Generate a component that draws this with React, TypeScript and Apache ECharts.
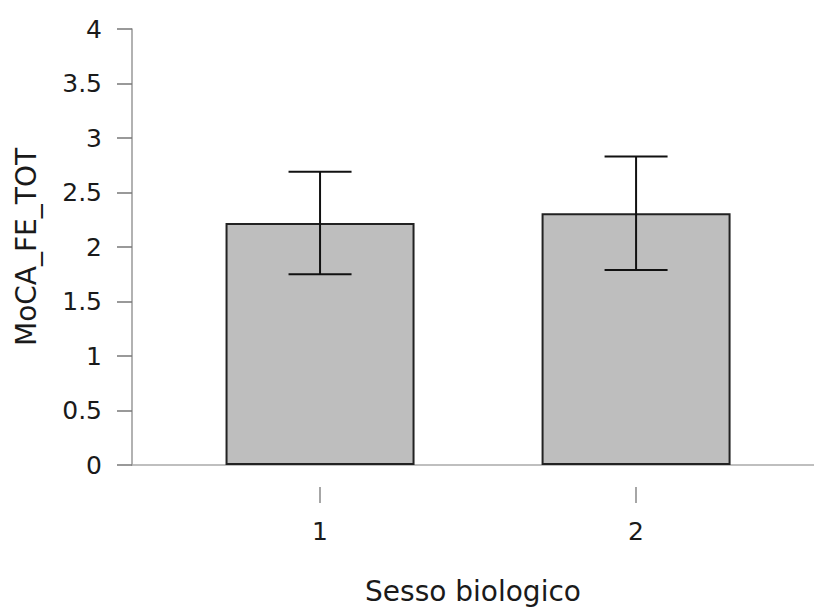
import React, { useEffect, useRef } from "react";
import * as echarts from "echarts";

const categories = ["1", "2"];
const categoryPositions = [1, 2];
const meanValues = [2.22, 2.31];
const errorLow = [1.75, 1.79];
const errorHigh = [2.69, 2.83];
const yTicks = { min: 0, max: 4, interval: 0.5 };
const yName = "MoCA_FE_TOT";
const xName = "Sesso biologico";

export default function App() {
  const ref = useRef<HTMLDivElement>(null);
  useEffect(() => {
    if (!ref.current) return;
    const chart = echarts.init(ref.current, undefined, { renderer: "svg" });
    const font = "DejaVu Sans";
    const xMin = 0.405;
    const xMax = 2.563;
    chart.setOption({
      animation: false,
      backgroundColor: "#ffffff",
      grid: { left: 132, right: 0, top: 29, bottom: 139, containLabel: false },
      xAxis: [
        {
          type: "value",
          min: xMin,
          max: xMax,
          axisLine: { show: true, lineStyle: { color: "#aaaaaa", width: 1.5 } },
          axisTick: { show: false },
          axisLabel: { show: false },
          splitLine: { show: false },
        },
        {
          type: "value",
          min: xMin,
          max: xMax,
          position: "bottom",
          offset: 22,
          axisLine: { show: false },
          axisTick: {
            show: true,
            length: 16,
            customValues: categoryPositions,
            lineStyle: { color: "#888888", width: 1.5 },
          },
          axisLabel: {
            show: true,
            customValues: categoryPositions,
            formatter: (v: number) => categories[categoryPositions.indexOf(Math.round(v))] ?? "",
            margin: 32,
            fontFamily: font,
            fontSize: 25,
            color: "#1a1a1a",
          },
          splitLine: { show: false },
          name: xName,
          nameLocation: "middle",
          nameGap: 90,
          nameTextStyle: { fontFamily: font, fontSize: 28, color: "#1a1a1a" },
        },
      ],
      yAxis: {
        type: "value",
        min: yTicks.min,
        max: yTicks.max,
        interval: yTicks.interval,
        axisLine: { show: true, lineStyle: { color: "#999999", width: 1.5 } },
        axisTick: { show: true, length: 15, lineStyle: { color: "#777777", width: 1.5 } },
        axisLabel: { margin: 30, fontFamily: font, fontSize: 25, color: "#1a1a1a" },
        splitLine: { show: false },
        name: yName,
        nameLocation: "middle",
        nameGap: 92,
        nameTextStyle: { fontFamily: font, fontSize: 28, color: "#1a1a1a" },
      },
      series: [
        {
          type: "bar",
          xAxisIndex: 0,
          barWidth: 189,
          data: categoryPositions.map((x, i) => [x, meanValues[i]]),
          itemStyle: { color: "#bebebe", borderColor: "#222222", borderWidth: 2 },
          z: 2,
        },
        {
          type: "custom",
          xAxisIndex: 0,
          data: categoryPositions.map((x, i) => [x, errorLow[i], errorHigh[i]]),
          encode: { x: 0, y: [1, 2] },
          z: 3,
          renderItem: (params: any, api: any) => {
            const x = api.value(0);
            const lo = api.coord([x, api.value(1)]);
            const hi = api.coord([x, api.value(2)]);
            const hw = 31.5;
            const style = { stroke: "#111111", lineWidth: 2 };
            return {
              type: "group",
              children: [
                { type: "line", shape: { x1: hi[0], y1: hi[1], x2: lo[0], y2: lo[1] }, style },
                { type: "line", shape: { x1: hi[0] - hw, y1: hi[1], x2: hi[0] + hw, y2: hi[1] }, style },
                { type: "line", shape: { x1: lo[0] - hw, y1: lo[1], x2: lo[0] + hw, y2: lo[1] }, style },
              ],
            };
          },
        },
      ],
    });
    return () => chart.dispose();
  }, []);
  return (
    <div
      ref={ref}
      style={{ position: "absolute", left: 0, top: 0, width: 814, height: 610 }}
    />
  );
}
